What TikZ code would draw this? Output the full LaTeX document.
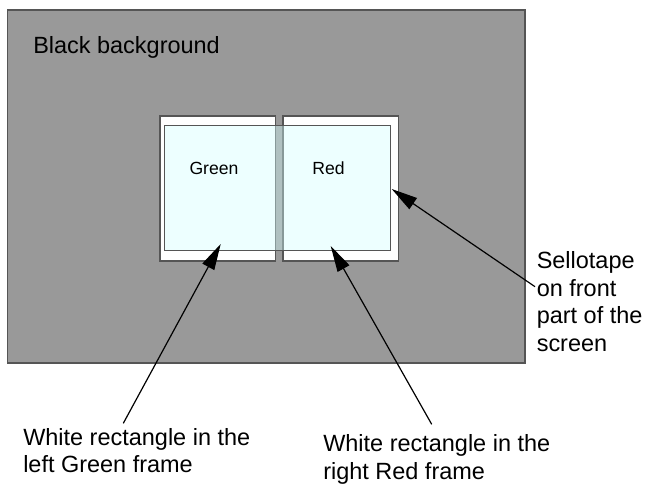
\documentclass[tikz,border=0pt]{standalone}
\usepackage{fontspec}
\setmainfont{Liberation Sans}
\usetikzlibrary{arrows.meta}
\definecolor{bggray}{RGB}{153,153,153}
\definecolor{edgegray}{RGB}{85,85,85}
\definecolor{tapecol}{RGB}{211,255,255}
\tikzset{
  frame/.style={draw=edgegray, line width=0.9pt, fill=white},
  tape/.style={draw=edgegray, line width=0.75pt, fill=tapecol, fill opacity=0.4},
  bigtext/.style={font=\fontsize{17.6pt}{20.6pt}\selectfont, inner sep=0pt, align=left},
  smalltext/.style={font=\fontsize{13.2pt}{15pt}\selectfont, inner sep=0pt},
  pointer/.style={line width=0.9pt, -{Triangle[length=19.5pt, width=10pt]}}
}
\begin{document}
\begin{tikzpicture}[x=0.75pt, y=-0.75pt]
\useasboundingbox (0,0) rectangle (645,484);
% background screen
\draw[draw=edgegray, line width=0.9pt, fill=bggray] (7.5,10) rectangle (525,363);
\node[bigtext, anchor=base west] (bg) at (33,54) {Black background};
% frames
\draw[frame] (160,116) rectangle (275.5,261);
\draw[frame] (283,116) rectangle (398.5,261);
% tape
\draw[tape] (164.5,125.5) rectangle (390.5,250.5);
\node[smalltext, anchor=base] (green) at (214,174.3) {Green};
\node[smalltext, anchor=base] (red) at (328.5,174.3) {Red};
% targets
\coordinate (tipG) at (220.7,244);
\coordinate (tipR) at (330.7,246);
\coordinate (tipS) at (391.7,189);
% labels (base anchor = baseline of last line)
\node[bigtext, anchor=base west] (lblS) at (536.5,351) {Sellotape\\on front\\part of the\\screen};
\node[bigtext, anchor=base west] (lblG) at (23,472.7) {White rectangle in the\\left Green frame};
\node[bigtext, anchor=base west] (lblR) at (323,479.3) {White rectangle in the\\right Red frame};
\coordinate (startS) at (535,286.7);
\coordinate (startG) at (123.3,423.3);
\coordinate (startR) at (431.7,424.3);
\draw[pointer] (startS) -- (tipS);
\draw[pointer] (startG) -- (tipG);
\draw[pointer] (startR) -- (tipR);
\end{tikzpicture}
\end{document}
